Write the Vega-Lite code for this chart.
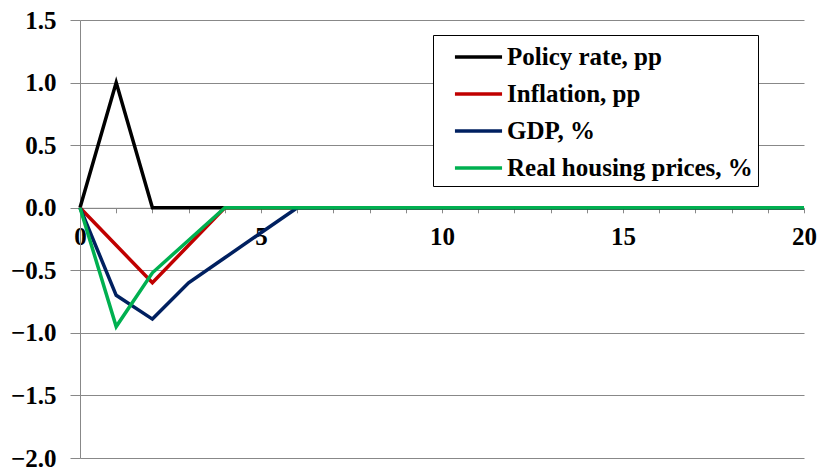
{
  "$schema": "https://vega.github.io/schema/vega-lite/v6.json",
  "width": 724,
  "height": 438,
  "autosize": {"type": "none"},
  "padding": {"left": 80, "top": 20, "right": 17, "bottom": 9},
  "background": "white",
  "config": {"view": {"stroke": null}, "font": "'Liberation Serif', 'Times New Roman', serif"},
  "data": {"values": [
    {"t":0,"s":"Policy rate, pp","v":0},{"t":1,"s":"Policy rate, pp","v":1.0},{"t":2,"s":"Policy rate, pp","v":0},{"t":3,"s":"Policy rate, pp","v":0},{"t":4,"s":"Policy rate, pp","v":0},{"t":5,"s":"Policy rate, pp","v":0},{"t":6,"s":"Policy rate, pp","v":0},{"t":7,"s":"Policy rate, pp","v":0},{"t":8,"s":"Policy rate, pp","v":0},{"t":9,"s":"Policy rate, pp","v":0},{"t":10,"s":"Policy rate, pp","v":0},{"t":11,"s":"Policy rate, pp","v":0},{"t":12,"s":"Policy rate, pp","v":0},{"t":13,"s":"Policy rate, pp","v":0},{"t":14,"s":"Policy rate, pp","v":0},{"t":15,"s":"Policy rate, pp","v":0},{"t":16,"s":"Policy rate, pp","v":0},{"t":17,"s":"Policy rate, pp","v":0},{"t":18,"s":"Policy rate, pp","v":0},{"t":19,"s":"Policy rate, pp","v":0},{"t":20,"s":"Policy rate, pp","v":0},
    {"t":0,"s":"Inflation, pp","v":0},{"t":1,"s":"Inflation, pp","v":-0.3},{"t":2,"s":"Inflation, pp","v":-0.6},{"t":3,"s":"Inflation, pp","v":-0.3},{"t":4,"s":"Inflation, pp","v":0},{"t":5,"s":"Inflation, pp","v":0},{"t":6,"s":"Inflation, pp","v":0},{"t":7,"s":"Inflation, pp","v":0},{"t":8,"s":"Inflation, pp","v":0},{"t":9,"s":"Inflation, pp","v":0},{"t":10,"s":"Inflation, pp","v":0},{"t":11,"s":"Inflation, pp","v":0},{"t":12,"s":"Inflation, pp","v":0},{"t":13,"s":"Inflation, pp","v":0},{"t":14,"s":"Inflation, pp","v":0},{"t":15,"s":"Inflation, pp","v":0},{"t":16,"s":"Inflation, pp","v":0},{"t":17,"s":"Inflation, pp","v":0},{"t":18,"s":"Inflation, pp","v":0},{"t":19,"s":"Inflation, pp","v":0},{"t":20,"s":"Inflation, pp","v":0},
    {"t":0,"s":"GDP, %","v":0},{"t":1,"s":"GDP, %","v":-0.7},{"t":2,"s":"GDP, %","v":-0.89},{"t":3,"s":"GDP, %","v":-0.6},{"t":4,"s":"GDP, %","v":-0.4},{"t":5,"s":"GDP, %","v":-0.2},{"t":6,"s":"GDP, %","v":0},{"t":7,"s":"GDP, %","v":0},{"t":8,"s":"GDP, %","v":0},{"t":9,"s":"GDP, %","v":0},{"t":10,"s":"GDP, %","v":0},{"t":11,"s":"GDP, %","v":0},{"t":12,"s":"GDP, %","v":0},{"t":13,"s":"GDP, %","v":0},{"t":14,"s":"GDP, %","v":0},{"t":15,"s":"GDP, %","v":0},{"t":16,"s":"GDP, %","v":0},{"t":17,"s":"GDP, %","v":0},{"t":18,"s":"GDP, %","v":0},{"t":19,"s":"GDP, %","v":0},{"t":20,"s":"GDP, %","v":0},
    {"t":0,"s":"Real housing prices, %","v":0},{"t":1,"s":"Real housing prices, %","v":-0.95},{"t":2,"s":"Real housing prices, %","v":-0.52},{"t":3,"s":"Real housing prices, %","v":-0.26},{"t":4,"s":"Real housing prices, %","v":0},{"t":5,"s":"Real housing prices, %","v":0},{"t":6,"s":"Real housing prices, %","v":0},{"t":7,"s":"Real housing prices, %","v":0},{"t":8,"s":"Real housing prices, %","v":0},{"t":9,"s":"Real housing prices, %","v":0},{"t":10,"s":"Real housing prices, %","v":0},{"t":11,"s":"Real housing prices, %","v":0},{"t":12,"s":"Real housing prices, %","v":0},{"t":13,"s":"Real housing prices, %","v":0},{"t":14,"s":"Real housing prices, %","v":0},{"t":15,"s":"Real housing prices, %","v":0},{"t":16,"s":"Real housing prices, %","v":0},{"t":17,"s":"Real housing prices, %","v":0},{"t":18,"s":"Real housing prices, %","v":0},{"t":19,"s":"Real housing prices, %","v":0},{"t":20,"s":"Real housing prices, %","v":0}
  ]},
  "mark": {"type": "line", "strokeWidth": 3.5, "strokeJoin": "miter"},
  "encoding": {
    "x": {
      "field": "t", "type": "quantitative",
      "scale": {"domain": [0, 20], "nice": false, "zero": false},
      "axis": {
        "title": null, "grid": false, "offset": -250.2,
        "values": [0,1,2,3,4,5,6,7,8,9,10,11,12,13,14,15,16,17,18,19,20],
        "labelExpr": "datum.value % 5 === 0 ? datum.label : ''",
        "domainColor": "#888888", "domainWidth": 1,
        "tickColor": "#888888", "tickSize": 5,
        "labelFont": "'Liberation Serif', 'Times New Roman', serif", "labelFontWeight": "bold", "labelFontSize": 25,
        "labelColor": "black", "labelPadding": 12, "labelFlush": false, "labelOverlap": false
      }
    },
    "y": {
      "field": "v", "type": "quantitative",
      "scale": {"domain": [-2, 1.5], "nice": false, "zero": false},
      "axis": {
        "title": null, "values": [-2,-1.5,-1,-0.5,0,0.5,1,1.5], "format": ".1f",
        "grid": true, "gridColor": "#888888", "gridWidth": 1,
        "domainColor": "#888888", "tickColor": "#888888", "tickSize": 10,
        "labelFont": "'Liberation Serif', 'Times New Roman', serif", "labelFontWeight": "bold", "labelFontSize": 25,
        "labelColor": "black", "labelPadding": 14
      }
    },
    "color": {
      "field": "s", "type": "nominal",
      "scale": {
        "domain": ["Policy rate, pp", "Inflation, pp", "GDP, %", "Real housing prices, %"],
        "range": ["#000000", "#C00000", "#002060", "#00B050"]
      },
      "legend": {
        "title": null, "orient": "none", "legendX": 353, "legendY": 15,
        "direction": "vertical",
        "fillColor": "white", "strokeColor": "#000000", "padding": 5,
        "symbolType": "M-1.57,0H1.57", "symbolSize": 900, "symbolStrokeWidth": 3.5,
        "symbolOffset": 23.5,
        "labelFont": "'Liberation Serif', 'Times New Roman', serif", "labelFontWeight": "bold", "labelFontSize": 25,
        "labelColor": "black", "labelOffset": 11.5, "rowPadding": 7, "labelLimit": 400
      }
    },
    "order": {"field": "t"}
  }
}
